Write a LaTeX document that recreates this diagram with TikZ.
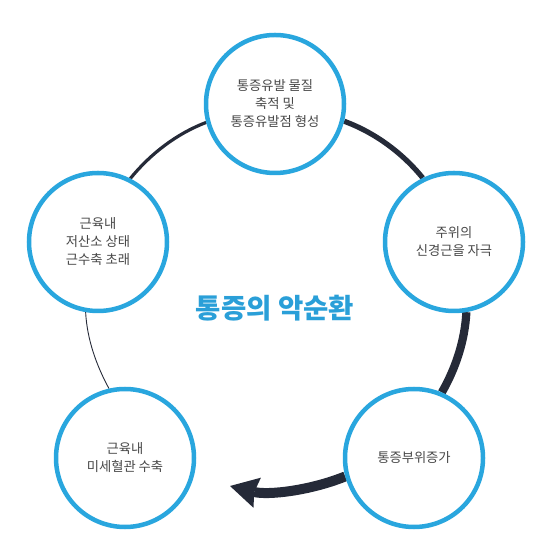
\documentclass[tikz,border=0pt]{standalone}
\usepackage{fontspec}
\newfontfamily\kr{Noto Sans CJK KR}
\usepackage{xcolor}
\usetikzlibrary{arrows.meta, backgrounds}
\definecolor{ringblue}{HTML}{29A6DE}
\definecolor{titleblue}{HTML}{2A9FD8}
\definecolor{cycnavy}{HTML}{252A38}
\definecolor{txtgray}{HTML}{484848}

\begin{document}
\begin{tikzpicture}[
  x=1pt, y=1pt,
  font=\kr\fontsize{13.3}{18}\selectfont,
  every node/.style={align=center},
  bub/.style={draw=ringblue, line width=4.5pt, circle, minimum size=138pt,
              inner sep=0pt, fill=white, text=txtgray},
  cyc/.style={draw=cycnavy, looseness=0.86},
  ttl/.style={text=titleblue, font=\kr\bfseries\fontsize{27.5}{32}\selectfont}
]
\useasboundingbox (0,0) rectangle (551,559);

\node[bub] (trig)   at (275,455) {통증유발 물질\\축적 및\\통증유발점 형성};
\node[bub] (nerve)  at (454,317) {주위의\\신경근을 자극};
\node[bub] (spread) at (414,101) {통증부위증가};
\node[bub] (vessel) at (125,101) {근육내\\미세혈관 수축};
\node[bub] (hypox)  at (98,317)  {근육내\\저산소 상태\\근수축 초래};
\node[ttl] (title)  at (275,251) {통증의 악순환};
\coordinate (tip) at (230,73);

\begin{scope}[on background layer]
\draw[cyc, line width=0.9pt] (vessel.103.4) to[out=118.5, in=-87] (hypox.260.2);
\draw[cyc, line width=3.2pt] (hypox.63.7) to[out=50.9, in=200.8] (trig.195.5);
\draw[cyc, line width=5.2pt] (trig.-14.9) to[out=-20.2, in=129.1] (nerve.116.3);
\draw[cyc, line width=8.2pt] (nerve.-80.2) to[out=-93, in=60.2] (spread.67.1);
\draw[cyc, line width=10pt, -{Stealth[length=28pt, width=31pt, inset=3pt, line width=0pt]}]
  (spread.195.2) to[out=-158, in=-13.9] (tip);
\end{scope}
\end{tikzpicture}
\end{document}
